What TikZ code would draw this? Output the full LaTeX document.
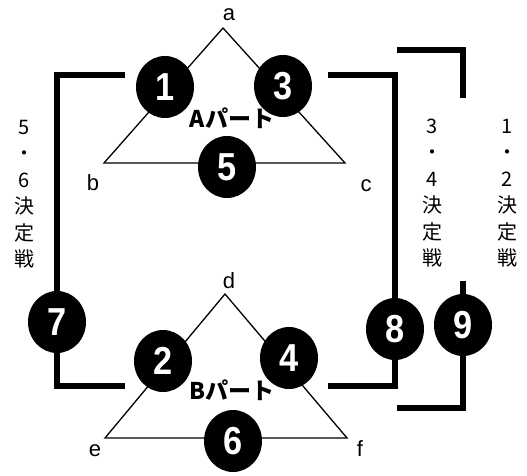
\documentclass[tikz,border=0pt]{standalone}
\usepackage{fontspec}
\setmainfont{Liberation Sans}
\newfontfamily\jp{Noto Sans CJK JP}
\newfontfamily\numfont[FakeStretch=0.88]{Liberation Sans Bold}
\usetikzlibrary{shapes.geometric}
\pgfdeclarelayer{bg}
\pgfsetlayers{bg,main}
\begin{document}
\begin{tikzpicture}[x=1pt,y=-1pt,
  num/.style={ellipse, fill=black, minimum width=58pt, minimum height=62pt, inner sep=0pt,
    text=white, font=\numfont\fontsize{39}{39}\selectfont},
  bracket/.style={line width=6.5pt},
  tri/.style={line width=1.3pt},
  lbl/.style={font=\fontsize{22}{22}\selectfont, anchor=base, inner sep=0pt},
  part/.style={font=\jp\bfseries\fontsize{23}{23}\selectfont, inner sep=0pt},
  vert/.style={font=\jp\fontsize{20}{26.5}\selectfont, align=center, inner sep=0pt}]
\useasboundingbox (0,0) rectangle (527,476);
% triangle A
\coordinate (ta) at (223,28);
\coordinate (tb) at (104,163);
\coordinate (tc) at (345,163);
% triangle B
\coordinate (td) at (225,294);
\coordinate (te) at (105,438);
\coordinate (tf) at (347,438);
% vertex labels
\node[lbl] (la) at (229,21) {a};
\node[lbl] (lb) at (93,190) {b};
\node[lbl] (lc) at (366,191) {c};
\node[lbl] (ld) at (229,288) {d};
\node[lbl] (le) at (95,456) {e};
\node[lbl] (lf) at (360,456) {f};
% part labels
\node[part] (pa) at (232,118) {Aパート};
\node[part] (pb) at (232,390) {Bパート};
% numbered circles
\node[num] (n1) at (165,87) {1};
\node[num] (n3) at (283,86) {3};
\node[num] (n5) at (227,167) {5};
\node[num] (n2) at (163,361) {2};
\node[num] (n4) at (289,358) {4};
\node[num] (n6) at (233,441) {6};
\node[num] (n7) at (57,322) {7};
\node[num] (n8) at (395,329) {8};
\node[num] (n9) at (463,325) {9};
% vertical labels
\node[vert] (v56) at (24,194) {5\\・\\6\\決\\定\\戦};
\node[vert] (v34) at (432,193) {3\\・\\4\\決\\定\\戦};
\node[vert] (v12) at (507,193) {1\\・\\2\\決\\定\\戦};
% bracket end points
\coordinate (L1) at (125,75);
\coordinate (L2) at (125,386);
\coordinate (R1) at (328,75);
\coordinate (R2) at (328,386);
\coordinate (O1) at (397,50);
\coordinate (O2) at (463,98);
\coordinate (O3) at (463,281);
\coordinate (O4) at (397,408);
\begin{pgfonlayer}{bg}
  \draw[tri] (ta) -- (tb) -- (tc) -- cycle;
  \draw[tri] (td) -- (te) -- (tf) -- cycle;
  \draw[bracket] (L1) -| (n7);
  \draw[bracket] (n7) |- (L2);
  \draw[bracket] (R1) -| (n8);
  \draw[bracket] (n8) |- (R2);
  \draw[bracket] (O1) -| (O2);
  \draw[bracket] (O3) -- (n9);
  \draw[bracket] (n9) |- (O4);
\end{pgfonlayer}
\end{tikzpicture}
\end{document}
